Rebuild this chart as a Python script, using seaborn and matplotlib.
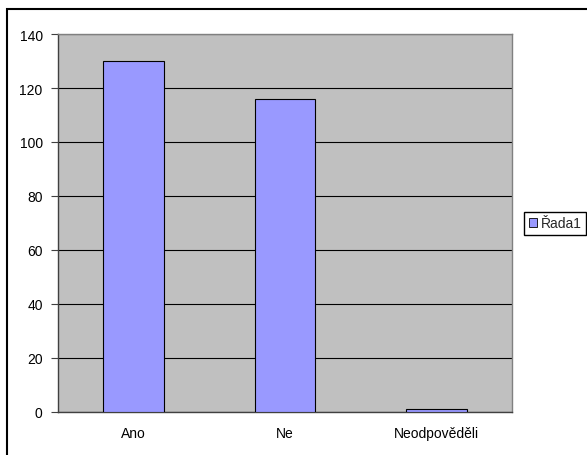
import matplotlib
matplotlib.use("Agg")
import matplotlib.pyplot as plt
import seaborn as sns
import pandas as pd
from matplotlib.patches import Rectangle, Patch

categories = ["Ano", "Ne", "Neodpověděli"]
values = [130, 116, 1]
series_name = "Řada1"
yticks = [0, 20, 40, 60, 80, 100, 120, 140]

df = pd.DataFrame({"kategorie": categories, "pocet": values})

sns.set_style("white")
plt.rcParams['font.family'] = ['Liberation Sans', 'DejaVu Sans']

W, H = 587, 456
fig = plt.figure(figsize=(W / 100, H / 100), dpi=100)
ax = fig.add_axes([58 / W, 1 - 413 / H, (512 - 58) / W, (413 - 35) / H])
ax.set_facecolor("#c0c0c0")

sns.barplot(data=df, x="kategorie", y="pocet", color="#9999ff", width=0.4,
            edgecolor="black", linewidth=0.8, saturation=1, ax=ax, zorder=3)

ax.set_ylim(0, 140)
ax.set_xlim(-0.5, 2.5)
ax.set_yticks(yticks)
ax.yaxis.grid(True, color="black", linewidth=0.8, zorder=0)
ax.set_axisbelow(True)
ax.set_xlabel("")
ax.set_ylabel("")
ax.tick_params(axis="both", labelsize=10, length=5, width=0.8, direction="out", color="#404040",
               labelcolor="black", left=True, bottom=True, pad=6)
ax.set_xticks([-0.5, 0.5, 1.5, 2.5], minor=True)
ax.tick_params(axis="x", which="major", length=0, pad=10)
ax.tick_params(axis="x", which="minor", length=5, width=0.8, color="#404040")
for side in ["left", "bottom"]:
    ax.spines[side].set_color("#404040")
    ax.spines[side].set_linewidth(1)
for side in ["top", "right"]:
    ax.spines[side].set_color("#808080")
    ax.spines[side].set_linewidth(1)

fig.legend(handles=[Patch(facecolor="#9999ff", edgecolor="black", linewidth=0.6, label=series_name)],
           loc="center left", bbox_to_anchor=(524 / W, 1 - 224.5 / H), fontsize=10,
           frameon=True, fancybox=False, edgecolor="black", handlelength=0.55, handleheight=0.55,
           handletextpad=0.3, borderpad=0.35, borderaxespad=0, framealpha=1)

# outer chart border (only the left and top sides are inside the picture)
fig.patches.append(Rectangle((7 / W, -0.1), 1.2, 1 - 10 / H + 0.1, transform=fig.transFigure,
                             fill=False, edgecolor="black", linewidth=1.5, clip_on=False))

fig.savefig("out.png", dpi=100)
